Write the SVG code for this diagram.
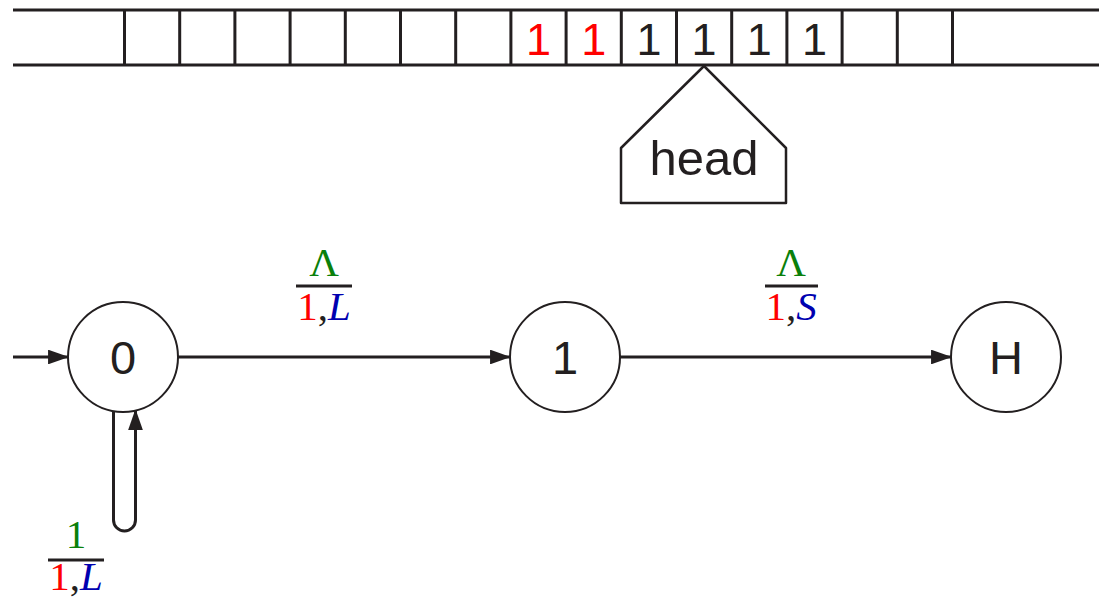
<svg xmlns="http://www.w3.org/2000/svg" width="1099" height="600" viewBox="0 0 1099 600">
<defs>
<style>
.tape{stroke:#231f20;stroke-width:3;fill:none}
.ln{stroke:#231f20;stroke-width:3;fill:none}
.circ{stroke:#231f20;stroke-width:2;fill:#fff}
.sans{font-family:"Liberation Sans",Arial,sans-serif;fill:#231f20;text-anchor:middle}
.serif{font-family:"Liberation Serif","Times New Roman",serif;font-size:41px;text-anchor:middle}
.g{fill:#0a800a}.r{fill:#ff0000}.b{fill:#0000b0}.k{fill:#231f20}
</style>
<marker id="ah" viewBox="0 0 20 14" refX="19" refY="7" markerWidth="7" markerHeight="4.9" markerUnits="strokeWidth" orient="auto">
<path d="M0,0 L20,7 L0,14 z" fill="#231f20"/>
</marker>
</defs>
<rect width="1099" height="600" fill="#fff"/>
<g id="tape">
<line class="tape" x1="13" y1="10" x2="1099" y2="10"/>
<line class="tape" x1="13" y1="65" x2="1099" y2="65"/>
<path class="tape" d="M124.5,10V65M179.7,10V65M234.9,10V65M290.1,10V65M345.3,10V65M400.5,10V65M455.7,10V65M510.9,10V65M566.1,10V65M621.3,10V65M676.5,10V65M731.7,10V65M786.9,10V65M842.1,10V65M897.3,10V65M952.5,10V65"/>
<g class="sans" font-size="45">
<text x="538.5" y="55" class="r">1</text>
<text x="593.7" y="55" class="r">1</text>
<text x="648.9" y="55">1</text>
<text x="704.1" y="55">1</text>
<text x="759.3" y="55">1</text>
<text x="814.5" y="55">1</text>
</g>
</g>
<g id="head">
<path d="M704,66 L621,148 L621,203 L786,203 L786,148 Z" stroke="#231f20" stroke-width="2.5" fill="#fff" stroke-linejoin="round"/>
<text x="704" y="175" class="sans" font-size="49">head</text>
</g>
<g id="connectors">
<line class="ln" x1="13" y1="357" x2="68" y2="357" marker-end="url(#ah)"/>
<line class="ln" x1="178" y1="357" x2="510" y2="357" marker-end="url(#ah)"/>
<line class="ln" x1="620" y1="357" x2="951" y2="357" marker-end="url(#ah)"/>
<path class="ln" d="M113.5,409 V520 A11,11 0 0 0 135.5,520 V410" marker-end="url(#ah)"/>
</g>
<g id="node0">
<circle class="circ" cx="123" cy="357" r="55"/>
<text x="123" y="374" class="sans" font-size="47">0</text>
</g>
<g id="node1">
<circle class="circ" cx="565" cy="357" r="55"/>
<text x="565" y="374" class="sans" font-size="47">1</text>
</g>
<g id="nodeH">
<circle class="circ" cx="1006" cy="357" r="55"/>
<text x="1006" y="374" class="sans" font-size="47">H</text>
</g>
<g id="label01">
<text x="324" y="276" class="serif g">Λ</text>
<line x1="296" y1="286" x2="352" y2="286" stroke="#231f20" stroke-width="3"/>
<text x="324" y="320" class="serif"><tspan class="r">1</tspan><tspan class="k">,</tspan><tspan class="b" font-style="italic">L</tspan></text>
</g>
<g id="label1H">
<text x="791" y="276" class="serif g">Λ</text>
<line x1="765" y1="286" x2="818" y2="286" stroke="#231f20" stroke-width="3"/>
<text x="791" y="320" class="serif"><tspan class="r">1</tspan><tspan class="k">,</tspan><tspan class="b" font-style="italic">S</tspan></text>
</g>
<g id="labelLoop">
<text x="76" y="548" class="serif g" font-size="39">1</text>
<line x1="48" y1="560" x2="104" y2="560" stroke="#231f20" stroke-width="3"/>
<text x="76" y="590" class="serif" font-size="39"><tspan class="r">1</tspan><tspan class="k">,</tspan><tspan class="b" font-style="italic">L</tspan></text>
</g>
</svg>
